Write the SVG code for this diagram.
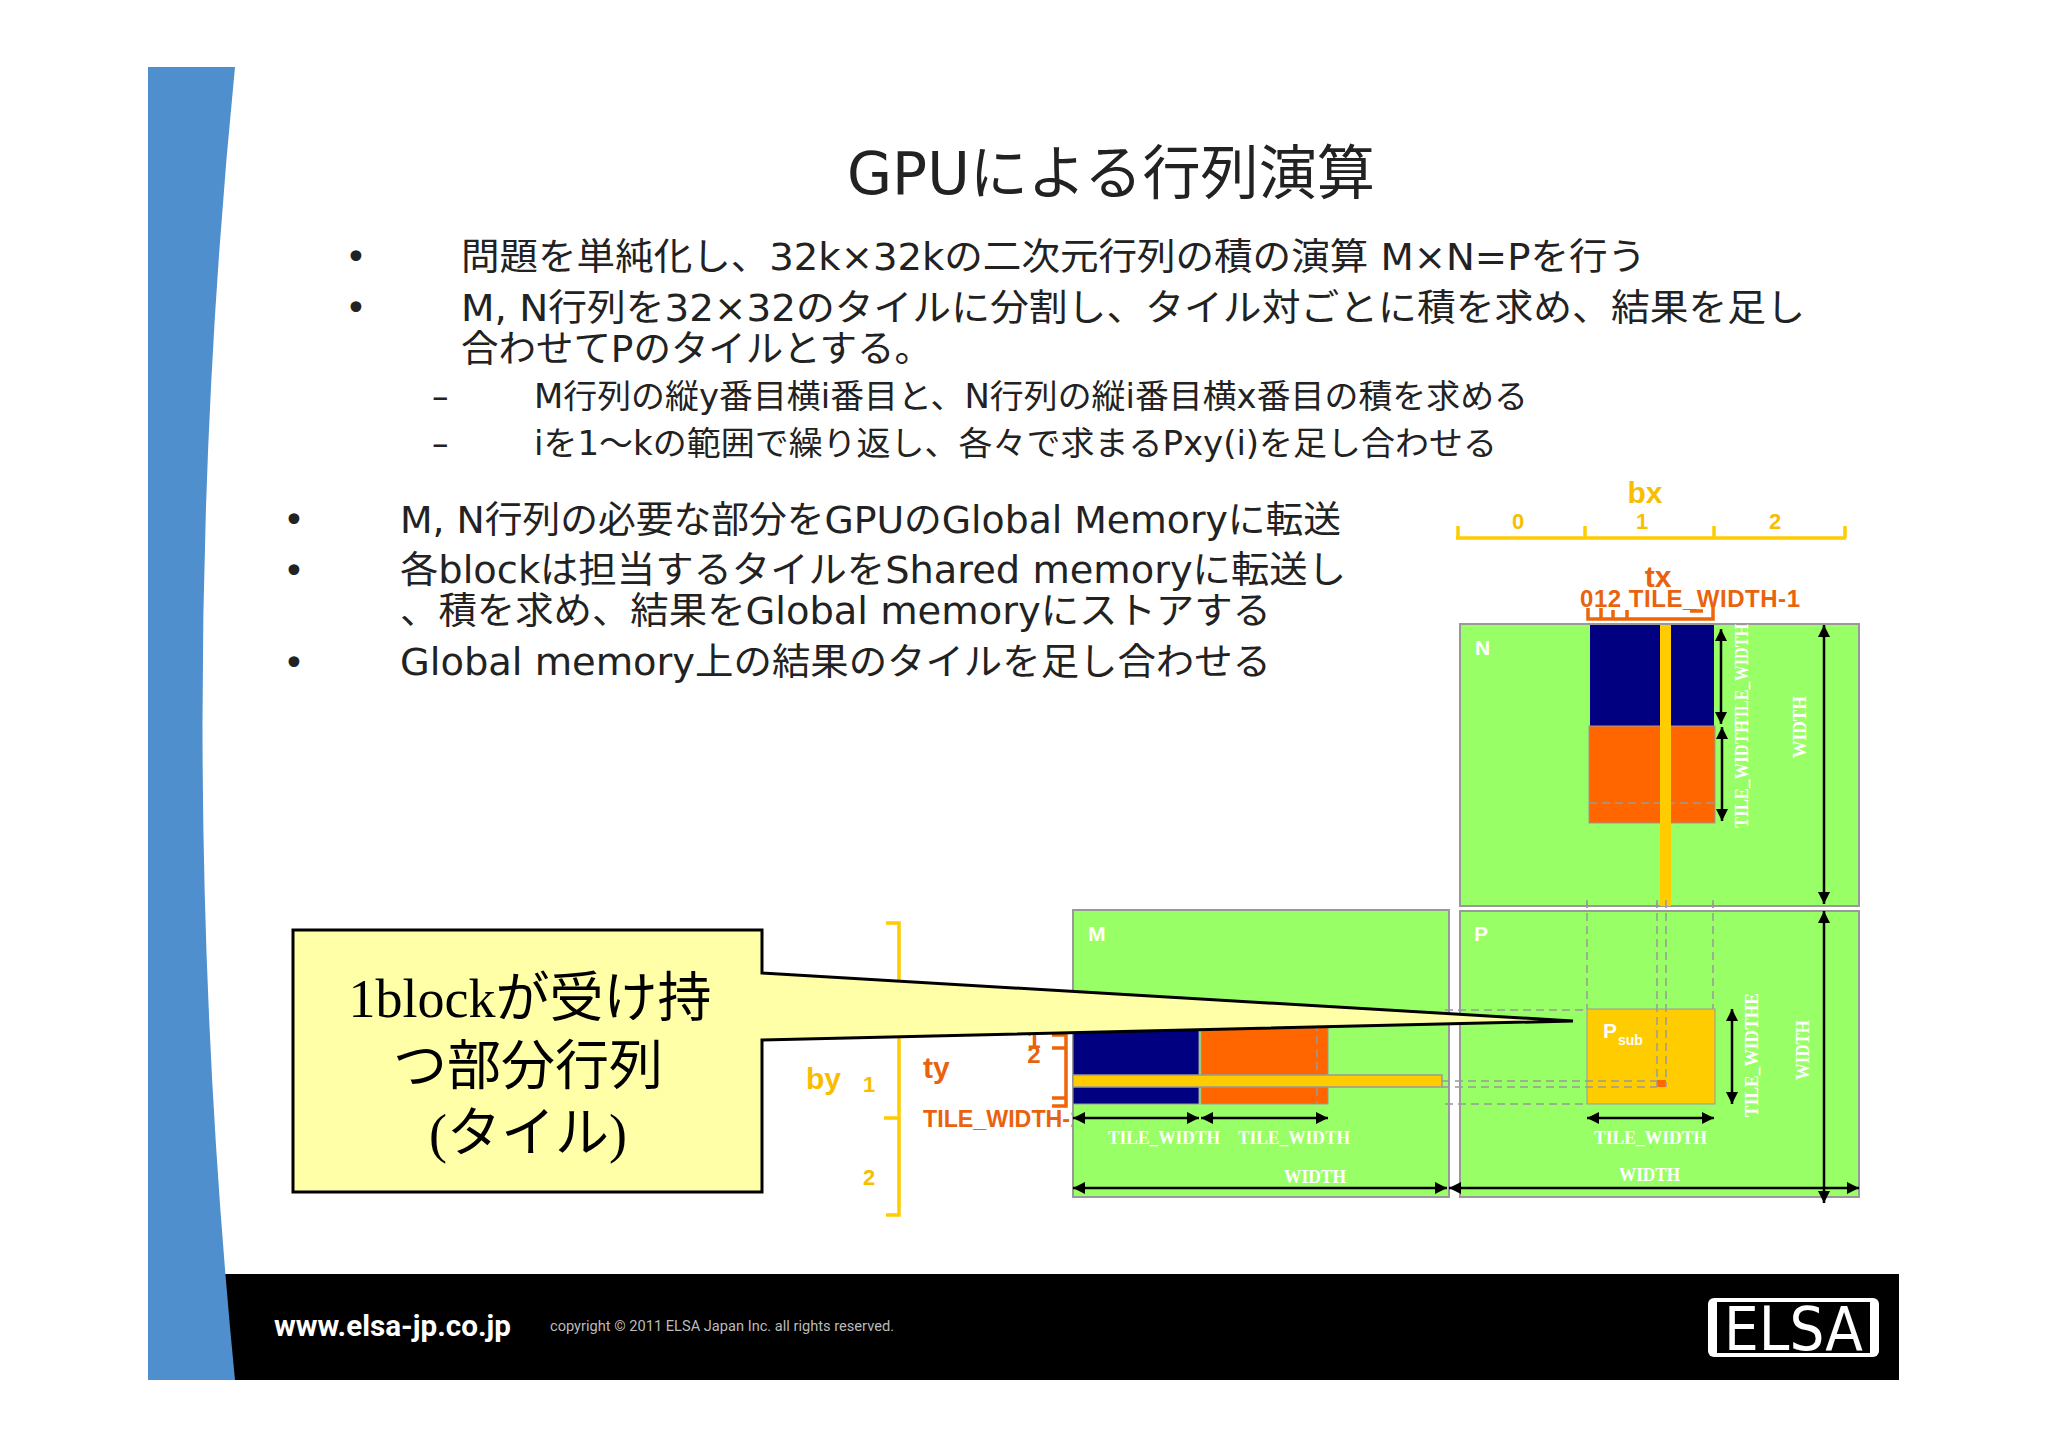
<svg xmlns="http://www.w3.org/2000/svg" width="2048" height="1447" viewBox="0 0 2048 1447">
<defs>
<marker id="ah" viewBox="0 0 12 12" refX="12" refY="6" markerWidth="12" markerHeight="12" markerUnits="userSpaceOnUse" orient="auto-start-reverse"><path d="M0 0L12 6L0 12Z" fill="#000"/></marker>
</defs>
<style>
.b{font-family:"DejaVu Sans","Noto Sans CJK JP",sans-serif;fill:#222}
.t{font-size:59px}.l{font-size:37px}.s{font-size:33px}
.g{fill:#9f6;stroke:#999;stroke-width:2}
.y{font-family:"Liberation Sans",sans-serif;font-weight:bold;fill:#F7BE00}
.o{font-family:"Liberation Sans",sans-serif;font-weight:bold;fill:#E9620E}
.w{font-family:"Liberation Sans",sans-serif;font-weight:bold;fill:#fff}
.r{font-family:"Liberation Serif",serif;font-weight:bold;fill:#fff;font-size:19px}
.a{stroke:#000;stroke-width:2.5;fill:none;marker-start:url(#ah);marker-end:url(#ah)}
.d{stroke:#999;stroke-width:1.5;stroke-dasharray:8 5;fill:none}
.yl{stroke:#FFCC00;stroke-width:3.5;fill:none}
.ol{stroke:#EE6608;stroke-width:3.5;fill:none}
.c{font-family:"Liberation Serif","Noto Sans CJK JP",serif;font-size:54px;fill:#000;text-anchor:middle}
</style>
<rect width="2048" height="1447" fill="#fff"/>
<g id="footer">
<path d="M221 1274H1899V1380H234Z" fill="#000"/>
<text x="274" y="1336" textLength="237" lengthAdjust="spacingAndGlyphs" style="font-family:'Roboto',sans-serif;font-weight:bold;font-size:30px;fill:#fff">www.elsa-jp.co.jp</text>
<text x="550" y="1331" textLength="344" lengthAdjust="spacingAndGlyphs" style="font-family:'Roboto',sans-serif;font-size:15px;fill:#bbb">copyright © 2011 ELSA Japan Inc. all rights reserved.</text>
</g>
<g id="band"><path d="M148 67H235Q170 720 235 1380H148Z" fill="#4F8FCD"/></g>
<g id="logo">
<rect x="1708" y="1298" width="171" height="59" rx="6" fill="#fff"/>
<rect x="1717" y="1302" width="153" height="51" fill="#000"/>
<text x="1724" y="1350" textLength="139" lengthAdjust="spacingAndGlyphs" style="font-family:'DejaVu Sans',sans-serif;font-size:60px;fill:#fff">ELSA</text>
</g>
<g id="title"><text class="b t" x="847" y="194" textLength="528" lengthAdjust="spacingAndGlyphs">GPUによる行列演算</text></g>
<g id="bullets">
<text class="b l" x="345" y="270">•</text>
<text class="b l" x="345" y="321">•</text>
<text class="b l" x="461" y="270" textLength="1185" lengthAdjust="spacingAndGlyphs">問題を単純化し、32k×32kの二次元行列の積の演算 M×N=Pを行う</text>
<text class="b l" x="461" y="321" textLength="1344" lengthAdjust="spacingAndGlyphs">M, N行列を32×32のタイルに分割し、タイル対ごとに積を求め、結果を足し</text>
<text class="b l" x="461" y="362" textLength="471" lengthAdjust="spacingAndGlyphs">合わせてPのタイルとする。</text>
<text class="b s" x="432" y="408">–</text>
<text class="b s" x="432" y="455">–</text>
<text class="b s" x="534" y="408" textLength="994" lengthAdjust="spacingAndGlyphs">M行列の縦y番目横i番目と、N行列の縦i番目横x番目の積を求める</text>
<text class="b s" x="534" y="455" textLength="963" lengthAdjust="spacingAndGlyphs">iを1～kの範囲で繰り返し、各々で求まるPxy(i)を足し合わせる</text>
<text class="b l" x="283" y="533">•</text>
<text class="b l" x="283" y="584">•</text>
<text class="b l" x="283" y="676">•</text>
<text class="b l" x="400" y="533" textLength="941" lengthAdjust="spacingAndGlyphs">M, N行列の必要な部分をGPUのGlobal Memoryに転送</text>
<text class="b l" x="400" y="583" textLength="946" lengthAdjust="spacingAndGlyphs">各blockは担当するタイルをShared memoryに転送し</text>
<text class="b l" x="400" y="624" textLength="871" lengthAdjust="spacingAndGlyphs">、積を求め、結果をGlobal memoryにストアする</text>
<text class="b l" x="400" y="675" textLength="871" lengthAdjust="spacingAndGlyphs">Global memory上の結果のタイルを足し合わせる</text>
</g>
<g id="axes">
<path class="yl" d="M1456 538H1846M1458 526V538M1585 526V538M1714 526V538M1845 526V538"/>
<text class="y" x="1645" y="503" text-anchor="middle" font-size="30">bx</text>
<text class="y" x="1518" y="529" text-anchor="middle" font-size="22">0</text>
<text class="y" x="1642" y="529" text-anchor="middle" font-size="22">1</text>
<text class="y" x="1775" y="529" text-anchor="middle" font-size="22">2</text>
<path class="yl" d="M886 923H899V1215H886M884 1118H899"/>
<text class="y" x="806" y="1089" font-size="30">by</text>
<text class="y" x="869" y="1001" text-anchor="middle" font-size="22">0</text>
<text class="y" x="869" y="1092" text-anchor="middle" font-size="22">1</text>
<text class="y" x="869" y="1185" text-anchor="middle" font-size="22">2</text>
<text class="o" x="1658" y="587" text-anchor="middle" font-size="30">tx</text>
<text class="o" x="1580" y="607" font-size="24" textLength="220" lengthAdjust="spacing">012  TILE_WIDTH-1</text>
<path class="ol" d="M1588 608V619H1713V607M1601 608V619M1613 610V619M1627 610V619M1690 611H1703"/>
<text class="o" x="923" y="1078" font-size="30">ty</text>
<text class="o" x="923" y="1127" font-size="24" textLength="160" lengthAdjust="spacingAndGlyphs">TILE_WIDTH-1</text>
<text class="o" x="1034" y="1048" text-anchor="middle" font-size="24">1</text>
<text class="o" x="1034" y="1063" text-anchor="middle" font-size="24">2</text>
<path class="ol" d="M1052 1035H1066V1106H1052M1052 1048H1066M1052 1098H1066"/>
</g>
<g id="node-N">
<rect class="g" x="1460" y="624" width="399" height="282"/>
<rect x="1590" y="625" width="124" height="101" fill="#000080"/>
<rect x="1589" y="726" width="126" height="97" fill="#F60" stroke="#999"/>
<path class="d" d="M1589 803H1714"/>
<rect x="1660" y="625" width="11" height="281" fill="#FC0"/>
<text class="w" x="1475" y="655" font-size="21">N</text>
<text class="r" transform="translate(1748 828) rotate(-90)" textLength="108" lengthAdjust="spacingAndGlyphs">TILE_WIDTH</text>
<text class="r" transform="translate(1748 728) rotate(-90)" textLength="104" lengthAdjust="spacingAndGlyphs">TILE_WIDTH</text>
<text class="r" transform="translate(1806 758) rotate(-90)" textLength="62" lengthAdjust="spacingAndGlyphs">WIDTH</text>
</g>
<g id="node-M">
<rect class="g" x="1073" y="910" width="376" height="287"/>
<rect x="1073" y="1010" width="126" height="94" fill="#000080" stroke="#999"/>
<rect x="1201" y="1010" width="127" height="94" fill="#F60" stroke="#999"/>
<path class="d" d="M1317 1010V1104"/>
<rect x="1073" y="1075" width="369" height="12" fill="#FC0" stroke="#999" stroke-width="1.5"/>
<text class="w" x="1088" y="941" font-size="21">M</text>
<text class="r" x="1108" y="1144" textLength="112" lengthAdjust="spacingAndGlyphs">TILE_WIDTH</text>
<text class="r" x="1238" y="1144" textLength="112" lengthAdjust="spacingAndGlyphs">TILE_WIDTH</text>
<text class="r" x="1284" y="1183" textLength="62" lengthAdjust="spacingAndGlyphs">WIDTH</text>
</g>
<g id="node-P">
<rect class="g" x="1460" y="911" width="399" height="286"/>
<rect x="1587" y="1009" width="128" height="95" fill="#FC0" stroke="#999"/>
<rect x="1657" y="1080" width="9" height="7" fill="#F60"/>
<text class="w" x="1474" y="941" font-size="21">P</text>
<text class="w" x="1603" y="1038" font-size="21">P</text>
<text class="w" x="1618" y="1045" font-size="14">sub</text>
<text class="r" transform="translate(1758 1117) rotate(-90)" textLength="124" lengthAdjust="spacingAndGlyphs">TILE_WIDTHE</text>
<text class="r" transform="translate(1809 1080) rotate(-90)" textLength="60" lengthAdjust="spacingAndGlyphs">WIDTH</text>
<text class="r" x="1594" y="1144" textLength="113" lengthAdjust="spacingAndGlyphs">TILE_WIDTH</text>
<text class="r" x="1619" y="1181" textLength="61" lengthAdjust="spacingAndGlyphs">WIDTH</text>
</g>
<g id="connectors">
<path class="d" d="M1587 900V1009M1713 900V1009M1657 900V1087M1666 900V1087"/>
<path class="d" d="M1587 903V908M1657 903V908M1713 903V908"/>
<path class="d" d="M1445 1010H1587M1445 1104H1587M1442 1081H1657M1442 1087H1657"/>
<path class="a" d="M1721 629V724"/>
<path class="a" d="M1722 727V821"/>
<path class="a" d="M1824 625V904"/>
<path class="a" d="M1824 911V1203"/>
<path class="a" d="M1732 1009V1104"/>
<path class="a" d="M1587 1118H1714"/>
<path class="a" d="M1449 1188H1859"/>
<path class="a" d="M1073 1188H1447"/>
<path class="a" d="M1073 1118H1199"/>
<path class="a" d="M1201 1118H1328"/>
</g>
<g id="callout">
<path d="M293 930H762V973L1573 1021L762 1040V1192H293Z" fill="#FFFFA8" stroke="#000" stroke-width="3"/>
<text class="c" x="530" y="1017">1blockが受け持</text>
<text class="c" x="528" y="1085">つ部分行列</text>
<text class="c" x="528" y="1152">(タイル)</text>
</g>
</svg>
